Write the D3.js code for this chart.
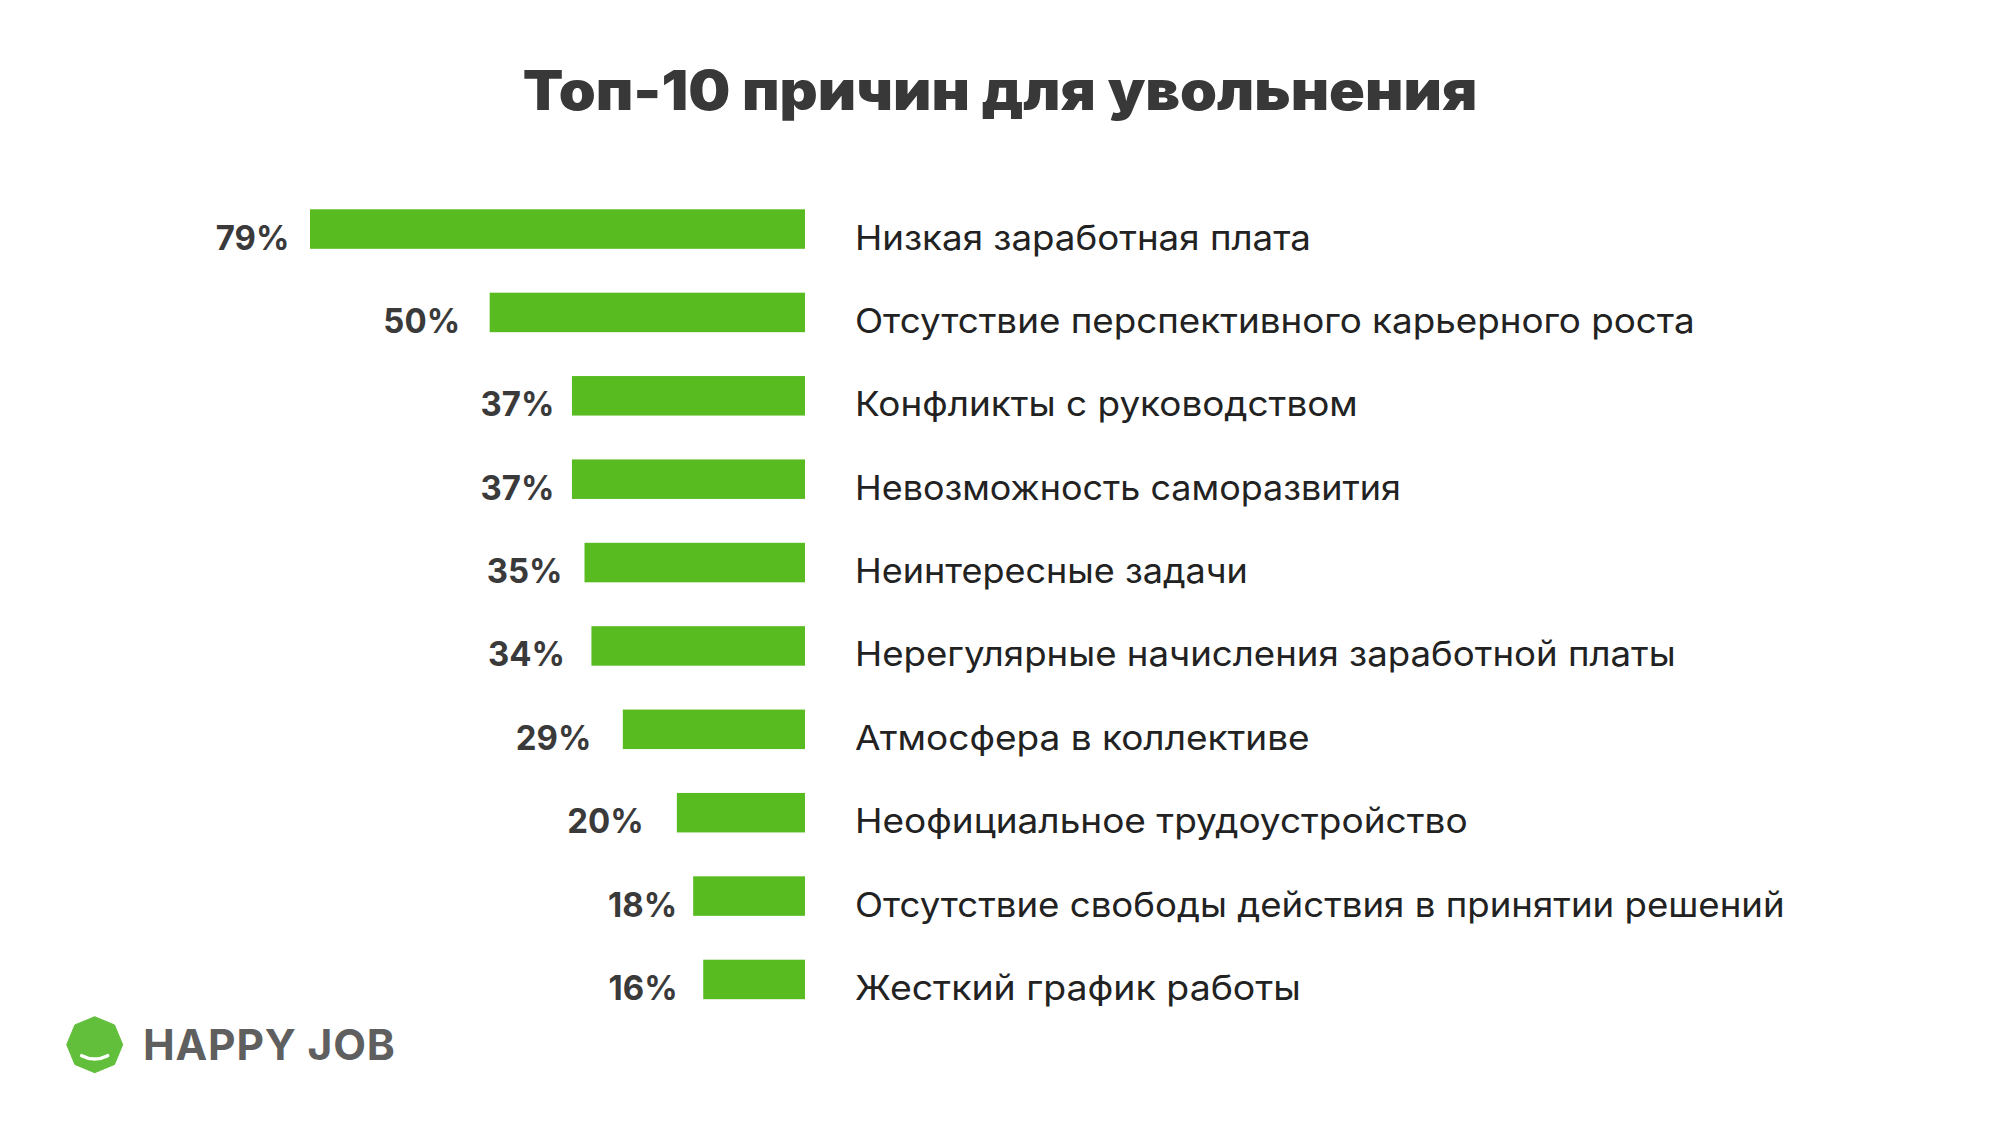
<!DOCTYPE html>
<html lang="ru">
<head>
<meta charset="utf-8">
<script src="https://cdn.jsdelivr.net/npm/d3@7"></script>
<style>
html,body{margin:0;padding:0;background:#fff}
svg{display:block}
text{font-family:Inter,"Open Sans",sans-serif}
</style>
</head>
<body>
<svg id="c" width="2000" height="1125"></svg>
<script>
const titleText = "Топ-10 причин для увольнения";
const brandText = "HAPPY JOB";
const categories = [
  "Низкая заработная плата",
  "Отсутствие перспективного карьерного роста",
  "Конфликты с руководством",
  "Невозможность саморазвития",
  "Неинтересные задачи",
  "Нерегулярные начисления заработной платы",
  "Атмосфера в коллективе",
  "Неофициальное трудоустройство",
  "Отсутствие свободы действия в принятии решений",
  "Жесткий график работы"
];
const valueLabels = ["79%", "50%", "37%", "37%", "35%", "34%", "29%", "20%", "18%", "16%"];
const barValues = [78.8, 50.2, 37.1, 37.1, 35.1, 34, 29, 20.4, 17.8, 16.2];
const labelGaps = [20.5, 29.5, 17.5, 17.5, 22, 26.4, 31.4, 33, 16, 25.5];
const labelEnds = [1311, 1695, 1358, 1401, 1248, 1676, 1310, 1468, 1785, 1301];

const svg = d3.select("#c");

const x = d3.scaleLinear().domain([0, 78.8]).range([805, 310]);
const y = d3.scaleBand().domain(categories).range([209.3, 999.2]).paddingInner(0.5263).paddingOuter(0);
const wide = 1.0766;

svg.append("text").attr("transform", `translate(1000,109.5) scale(${wide},1)`).attr("text-anchor", "middle")
  .attr("font-size", 55).attr("font-weight", 900).attr("fill", "#383838")
  .text(titleText);

const rows = svg.selectAll("g.row").data(categories).join("g").attr("class", "row");

rows.append("rect")
  .attr("x", (d, i) => x(barValues[i]))
  .attr("y", d => y(d))
  .attr("width", (d, i) => x(0) - x(barValues[i]))
  .attr("height", y.bandwidth())
  .attr("fill", "#58BB20");

rows.append("text")
  .attr("transform", (d, i) => `translate(${x(barValues[i]) - labelGaps[i]},${y(d) + y.bandwidth() + 0.8}) scale(0.97,1)`)
  .attr("text-anchor", "end")
  .attr("font-size", 34).attr("font-weight", 700).attr("fill", "#3a3a3a")
  .text((d, i) => valueLabels[i]);

rows.append("text")
  .attr("font-size", 34).attr("font-weight", 400).attr("fill", "#222222")
  .text(d => d)
  .attr("transform", function (d, i) {
    const k = (labelEnds[i] - 855) / this.getComputedTextLength();
    return `translate(855,${y(d) + y.bandwidth() + 0.8}) scale(${k},1)`;
  });

// logo
const logo = svg.append("g").attr("transform", "translate(94.7,1044.7)");
const logoAngles = d3.range(8).map(i => -Math.PI / 2 + i * 2 * Math.PI / 8);
logo.append("path")
  .attr("d", d3.line().curve(d3.curveLinearClosed)(logoAngles.map(a => [28 * Math.cos(a), 28 * Math.sin(a)])))
  .attr("fill", "#62BF3B").attr("stroke", "#62BF3B").attr("stroke-width", 1).attr("stroke-linejoin", "round");
logo.append("path")
  .attr("d", "M-13,11 Q0,17.6 13,11")
  .attr("fill", "none").attr("stroke", "#fff").attr("stroke-width", 3.5).attr("stroke-linecap", "round");

svg.append("text").attr("x", 143).attr("y", 1060)
  .attr("font-size", 42.5).attr("font-weight", 700).attr("fill", "#5f5f5f")
  .style("letter-spacing", "0.8px").text(brandText);
</script>
</body>
</html>
